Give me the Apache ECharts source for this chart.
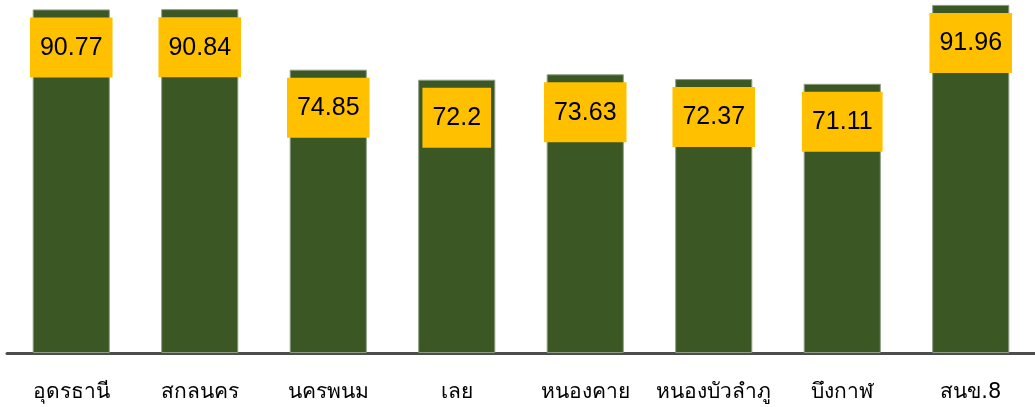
<!DOCTYPE html>
<html>
<head>
<meta charset="utf-8">
<script src="https://cdn.jsdelivr.net/npm/echarts@6/dist/echarts.min.js"></script>
<style>
  html, body { margin: 0; padding: 0; background: #fff; }
  #chart { width: 1035px; height: 407px; }
</style>
</head>
<body>
<div id="chart"></div>
<script>
var categories = ["อุดรธานี", "สกลนคร", "นครพนม", "เลย", "หนองคาย", "หนองบัวลำภู", "บึงกาฬ", "สนข.8"];
var scores = [90.77, 90.84, 74.85, 72.2, 73.63, 72.37, 71.11, 91.96];

var chart = echarts.init(document.getElementById("chart"));
var option = {
  animation: false,
  grid: {
    left: 7,
    right: -6,
    top: 0,
    bottom: 54
  },
  xAxis: {
    type: "category",
    data: categories,
    axisTick: { show: false },
    axisLine: {
      lineStyle: { color: "#4d4d4d", width: 3 }
    },
    axisLabel: {
      interval: 0,
      color: "#000",
      fontSize: 21,
      margin: 29,
      fontFamily: "Tahoma, 'DejaVu Sans', sans-serif"
    }
  },
  yAxis: {
    type: "value",
    min: 0,
    max: 93.26,
    show: false,
    splitLine: { show: false }
  },
  series: [
    {
      type: "bar",
      data: scores,
      barCategoryGap: "40%",
      itemStyle: {
        color: "#3b5724",
        borderColor: "#8c9c84",
        borderWidth: 1
      },
      label: {
        show: true,
        position: "insideTop",
        distance: 8,
        color: "#000",
        fontSize: 25,
        fontFamily: "'Liberation Sans', Arial, sans-serif",
        backgroundColor: "#ffc000",
        padding: [18, 10, 17, 10]
      }
    }
  ]
};
chart.setOption(option);
</script>
</body>
</html>
